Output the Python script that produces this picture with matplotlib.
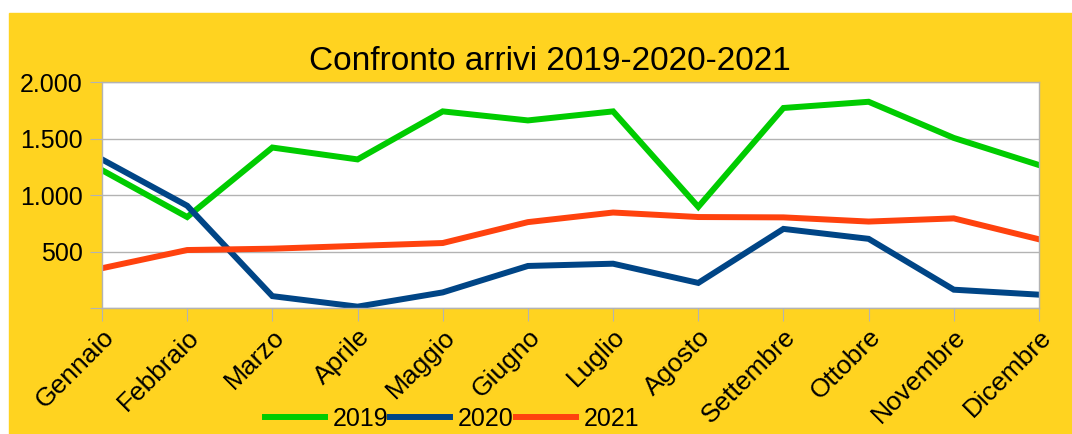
import matplotlib.pyplot as plt
from matplotlib.patches import Rectangle
from matplotlib.ticker import FuncFormatter

mesi = ['Gennaio', 'Febbraio', 'Marzo', 'Aprile', 'Maggio', 'Giugno',
        'Luglio', 'Agosto', 'Settembre', 'Ottobre', 'Novembre', 'Dicembre']
arrivi_2019 = [1220, 805, 1420, 1315, 1740, 1660, 1740, 895, 1770, 1825, 1505, 1265]
arrivi_2020 = [1315, 905, 105, 12, 138, 372, 392, 222, 700, 612, 162, 118]
arrivi_2021 = [352, 513, 525, 550, 575, 760, 845, 805, 802, 765, 793, 608]

plt.rcParams['font.family'] = ['Liberation Sans', 'DejaVu Sans']

W, H = 1072, 434
fig = plt.figure(figsize=(W / 100, H / 100), dpi=100)
fig.patch.set_facecolor('white')
# sfondo giallo (con un bordo bianco in alto e a sinistra)
fig.patches.append(Rectangle((9 / W, 0), 1 - 9 / W, 1 - 13 / H,
                             transform=fig.transFigure, color='#ffd320', zorder=-10))

ax = fig.add_axes([102 / W, 1 - 308 / H, (1039 - 102) / W, (308 - 82) / H])
ax.set_facecolor('white')

x = range(len(mesi))
ax.plot(x, arrivi_2019, color='#00cc00', linewidth=4.3, label='2019', solid_joinstyle='miter')
ax.plot(x, arrivi_2020, color='#004586', linewidth=4.3, label='2020', solid_joinstyle='miter')
ax.plot(x, arrivi_2021, color='#ff420e', linewidth=4.3, label='2021', solid_joinstyle='miter')

ax.set_xlim(0, len(mesi) - 1)
ax.set_ylim(0, 2000)
ax.set_yticks([0, 500, 1000, 1500, 2000])
ax.yaxis.set_major_formatter(FuncFormatter(
    lambda v, p: '' if v == 0 else f'{int(v):,}'.replace(',', '.')))
ax.set_xticks(list(x))
ax.set_xticklabels(mesi, rotation=45, ha='right', rotation_mode='anchor', fontsize=19)
ax.tick_params(axis='y', labelsize=18, length=9, color='#b3b3b3', pad=5)
ax.tick_params(axis='x', length=9, color='#b3b3b3', pad=3)
ax.grid(axis='y', color='#b3b3b3', linewidth=1)
for s in ax.spines.values():
    s.set_color('#b3b3b3')
    s.set_linewidth(1)

fig.text(550 / W, 1 - 62 / H, 'Confronto arrivi 2019-2020-2021',
         ha='center', va='center', fontsize=24)

fig.legend(loc='center', bbox_to_anchor=(452 / W, 1 - 419 / H), ncol=3,
           frameon=False, fontsize=18, handlelength=2.4, handletextpad=0.3,
           columnspacing=0.1, borderpad=0)

fig.savefig('out.png', dpi=100, facecolor=fig.get_facecolor())
